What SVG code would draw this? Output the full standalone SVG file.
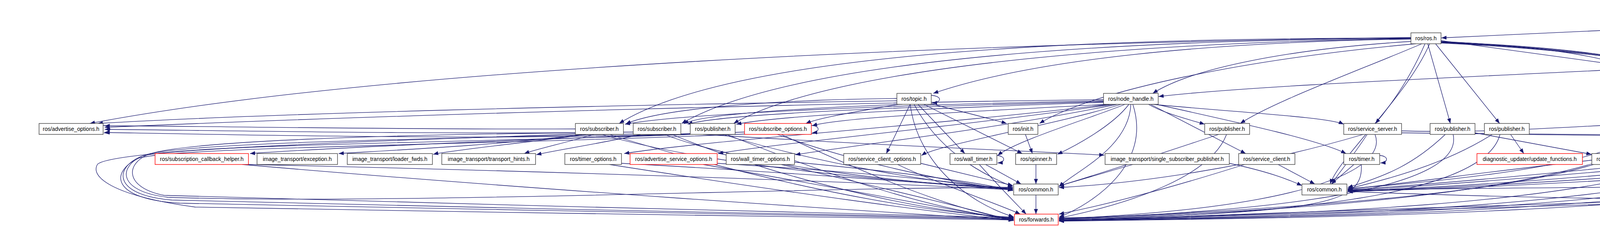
<svg xmlns="http://www.w3.org/2000/svg" width="6891" height="581" viewBox="0 0 6891 581">
<defs>
<marker id="a" markerUnits="userSpaceOnUse" markerWidth="14" markerHeight="10" refX="13" refY="5" orient="auto"><path d="M0,0 L13,5 L0,10 z" fill="#191970"/></marker>
<style>
.n rect{fill:#fff;stroke:#404040;stroke-width:1.4}
.r rect{fill:#fff;stroke:#ff0000;stroke-width:1.4}
.t rect{fill:#bfbfbf;stroke:#000;stroke-width:1.4}
text{font-family:"Liberation Sans",Arial,sans-serif;font-size:14px;text-anchor:middle;fill:#000}
#edges path{fill:none;stroke:#191970;stroke-width:1.3;marker-end:url(#a)}
</style>
</defs>
<rect width="6891" height="581" fill="#fff"/>
<g id="edges">
<path d="M5272,24 L3690,97"/>
<path d="M5328,35 L5224,84"/>
<path d="M5394,35 L5495,84"/>
<path d="M5446,33 L5819,84"/>
<path d="M5191,112 L5191,161"/>
<path d="M5532,112 L5532,161"/>
<path d="M5920,112 L5920,161"/>
<path d="M5985,113 L6197,161"/>
<path d="M5839,190 L5580,239"/>
<path d="M5908,190 L5879,239"/>
<path d="M5975,190 L6143,239"/>
<path d="M6030,190 L6384,239"/>
<path d="M6060,190 L6646,239"/>
<path d="M3612,100 C3100,108 2650,150 2389,239"/>
<path d="M3614,106 C3300,125 3050,175 2951,239"/>
<path d="M3612,97 C2900,98 1900,120 1585,316"/>
<path d="M3612,98 C2950,102 2050,140 1745,316"/>
<path d="M3612,99 C3000,106 2150,160 1878,316"/>
<path d="M3625,112 C3200,150 2800,230 2661,316"/>
<path d="M3640,112 C3480,180 3260,260 3175,316"/>
<path d="M3648,112 C3610,200 3560,270 3521,316"/>
<path d="M3655,112 L3713,316"/>
<path d="M3675,112 L3839,316"/>
<path d="M3689,104 L4141,166"/>
<path d="M3689,106 C4150,130 4340,180 4360,393"/>
<path d="M3689,107 C4250,130 4530,200 4537,393"/>
<path d="M3689,108 C4300,135 4620,220 4665,393"/>
<path d="M3689,109 C4350,140 4720,250 4795,393"/>
<path d="M3689,110 C4400,145 4850,270 4975,393"/>
<path d="M3660,112 C3600,250 3430,400 3405,471"/>
<path d="M3612,96 C2500,110 1000,170 230,316"/>
<path d="M4141,178 C3700,200 3200,220 2966,247"/>
<path d="M4205,189 L4160,393"/>
<path d="M4215,189 C4240,300 4300,350 4368,393"/>
<path d="M4225,189 C4270,330 4260,420 3450,483"/>
<path d="M4235,189 C4340,380 4200,500 2711,560"/>
<path d="M4244,182 C4700,190 5120,240 5240,300 C5300,330 5305,360 5305,420 C5305,480 5280,497 5180,497 C4700,500 3900,520 2711,566"/>
<path d="M3588,335 C3900,345 4300,300 4768,290 C5000,290 5170,330 5180,390 C5185,440 5100,465 4950,467 C4500,480 3700,480 3450,487"/>
<path d="M3588,340 C4000,345 4900,345 5100,372 C5160,385 5165,420 5140,460 C5100,500 5000,505 4800,508 C4000,520 3000,560 2711,564"/>
<path d="M3776,342 C4200,350 4900,350 5110,378 C5150,390 5150,430 5120,470 C5090,505 5000,510 4800,512 C4200,515 3700,500 3450,490"/>
<path d="M2825,255 C2200,262 1100,290 268,326"/>
<path d="M2825,258 C2300,268 1750,290 1600,318"/>
<path d="M2825,260 C2350,272 1850,290 1760,318"/>
<path d="M2825,262 C2400,276 2000,295 1885,318"/>
<path d="M2830,267 C2500,285 2150,300 2079,322"/>
<path d="M2840,267 C2400,320 1800,360 1598,393"/>
<path d="M2850,267 C2450,325 2000,365 1838,393"/>
<path d="M2860,267 C2550,330 2200,370 2036,396"/>
<path d="M2870,267 C2700,320 2400,370 2359,398"/>
<path d="M2880,267 C2800,300 2600,360 2554,398"/>
<path d="M2890,267 C2850,320 2760,370 2707,395"/>
<path d="M2895,267 C2890,380 2750,440 2711,478"/>
<path d="M2900,267 C2950,420 2800,520 2711,556"/>
<path d="M2940,267 C2980,290 3040,305 3084,318"/>
<path d="M2950,267 C3200,290 3400,300 3440,318"/>
<path d="M2945,267 L3189,393"/>
<path d="M2960,267 C3200,320 3380,360 3446,393"/>
<path d="M2330,267 L2269,393"/>
<path d="M2350,267 L2470,393"/>
<path d="M2365,267 L2617,393"/>
<path d="M2380,265 C2480,290 2540,305 2577,316"/>
<path d="M2300,267 C2200,285 2100,300 2063,316"/>
<path d="M2296,252 C2000,255 1700,275 1602,317"/>
<path d="M2310,267 C2100,275 1800,290 1750,317"/>
<path d="M2296,258 C1500,270 700,290 250,316"/>
<path d="M2340,267 C2400,380 2500,440 2593,478"/>
<path d="M2330,267 C2350,420 2480,520 2595,555"/>
<path d="M2384,244 C2412,246 2412,262 2386,264"/>
<path d="M2077,321 C2100,322 2100,338 2079,340"/>
<path d="M2552,398 C2575,399 2575,416 2554,417"/>
<path d="M3532,398 C3555,399 3555,416 3534,417"/>
<path d="M264,321 C287,322 287,338 266,340"/>
<path d="M1473,330 C1000,332 500,322 268,322"/>
<path d="M1490,344 C1300,370 1000,385 867,393"/>
<path d="M1500,344 C1350,365 1150,385 1109,395"/>
<path d="M1520,344 C1450,365 1380,380 1342,393"/>
<path d="M1540,344 C1800,420 2300,470 2593,480"/>
<path d="M1560,344 C1900,450 2300,540 2595,556"/>
<path d="M1621,338 C1100,345 500,333 268,331"/>
<path d="M1640,344 C1550,365 1420,385 1373,396"/>
<path d="M1700,344 C1900,420 2300,470 2593,482"/>
<path d="M1720,344 C2000,460 2350,540 2595,558"/>
<path d="M1767,342 C1300,360 600,345 268,339"/>
<path d="M1800,344 C2200,370 2600,385 2827,397"/>
<path d="M1850,344 C2100,420 2400,470 2593,484"/>
<path d="M1860,344 C2150,460 2400,540 2595,560"/>
<path d="M1906,338 C1400,355 900,375 640,393"/>
<path d="M1990,344 C2200,420 2450,470 2593,486"/>
<path d="M2000,344 C2250,460 2450,540 2595,562"/>
<path d="M1473,340 C1000,345 480,360 380,395 C320,420 320,480 420,500 C1000,520 2200,545 2595,557"/>
<path d="M1621,343 C1100,355 470,365 370,397 C300,425 300,490 430,505 C1000,525 2200,475 2593,481"/>
<path d="M1767,344 C1200,365 460,370 362,400 C290,430 290,500 440,512 C1000,530 2200,548 2595,559"/>
<path d="M1906,343 C1300,370 450,375 355,405 C280,440 285,510 460,520 C1100,535 2200,552 2595,561"/>
<path d="M1473,343 C1000,360 300,380 250,420 C230,450 280,500 500,530 C1200,545 2300,555 2595,563"/>
<path d="M2625,344 L2643,393"/>
<path d="M3120,344 C2950,400 2800,450 2711,476"/>
<path d="M3140,344 C3100,450 2900,520 2711,558"/>
<path d="M3490,344 C3200,430 2900,470 2711,480"/>
<path d="M3500,344 C3450,420 3420,450 3410,471"/>
<path d="M3520,344 C3550,420 3400,530 2711,560"/>
<path d="M3776,340 L4074,395"/>
<path d="M3700,344 C3620,420 3550,450 3450,480"/>
<path d="M3720,344 C3750,480 3300,540 2711,560"/>
<path d="M3867,344 L3901,393"/>
<path d="M3820,344 C3700,420 3550,460 3450,483"/>
<path d="M3840,344 C3800,500 3300,550 2711,562"/>
<path d="M636,421 C1500,440 2300,470 2593,486"/>
<path d="M620,421 C1300,480 2200,540 2595,563"/>
<path d="M1591,418 C2000,440 2400,470 2593,486"/>
<path d="M1560,421 C2000,490 2400,545 2595,564"/>
<path d="M1836,418 C2200,440 2450,465 2593,487"/>
<path d="M1800,421 C2200,490 2450,540 2595,564"/>
<path d="M2034,415 C2300,440 2500,465 2593,488"/>
<path d="M2000,421 C2300,490 2500,540 2595,565"/>
<path d="M2357,418 C2450,440 2530,460 2593,475"/>
<path d="M2298,421 C2400,470 2550,520 2612,548"/>
<path d="M2523,421 L2614,471"/>
<path d="M2507,421 C2560,480 2600,520 2627,548"/>
<path d="M2652,421 L2652,471"/>
<path d="M2652,499 L2652,548"/>
<path d="M2900,421 C2800,450 2750,465 2711,476"/>
<path d="M3147,418 C3250,440 3300,460 3333,475"/>
<path d="M3272,421 L3366,471"/>
<path d="M3186,421 C3000,480 2850,520 2711,548"/>
<path d="M3466,421 L3408,471"/>
<path d="M3485,421 C3490,520 3400,545 2711,560"/>
<path d="M4075,410 C3800,440 3600,470 3450,484"/>
<path d="M4080,418 C3800,500 3300,545 2711,558"/>
<path d="M4315,410 C4000,440 3700,470 3450,486"/>
<path d="M4320,418 C4000,520 3400,550 2711,562"/>
<path d="M4490,404 C4100,440 3700,475 3450,487"/>
<path d="M4500,418 C4100,530 3400,555 2711,563"/>
<path d="M4616,404 C4200,440 3800,478 3450,488"/>
<path d="M4630,418 C4200,535 3400,556 2711,564"/>
<path d="M4760,404 C4300,445 3800,480 3450,489"/>
<path d="M4770,418 C4300,540 3400,557 2711,565"/>
<path d="M4882,404 C4400,450 3800,482 3450,490"/>
<path d="M4900,421 C4400,545 3400,558 2711,566"/>
</g>
<g id="n_top" class="t"><rect x="5272" y="7" width="174" height="28"/><text x="5359" y="26">get_collision_free_ik.cpp</text></g>
<g id="n_ros" class="n"><rect x="3612" y="84" width="77" height="28"/><text x="3650.5" y="103">ros/ros.h</text></g>
<g id="n_gksi" class="n"><rect x="5041" y="84" width="298" height="28"/><text x="5190" y="103">kinematics_msgs/GetKinematicSolverInfo.h</text></g>
<g id="n_gcap" class="n"><rect x="5361" y="84" width="336" height="28"/><text x="5529" y="103">kinematics_msgs/GetConstraintAwarePositionIK.h</text></g>
<g id="n_spsd" class="n"><rect x="5756" y="84" width="316" height="28"/><text x="5914" y="103">arm_navigation_msgs/SetPlanningSceneDiff.h</text></g>
<g id="n_service" class="n"><rect x="4141" y="161" width="103" height="28"/><text x="4192.5" y="180">ros/service.h</text></g>
<g id="n_ksi" class="n"><rect x="5052" y="161" width="275" height="28"/><text x="5189.5" y="180">kinematics_msgs/KinematicSolverInfo.h</text></g>
<g id="n_pikr" class="n"><rect x="5401" y="161" width="259" height="28"/><text x="5530.5" y="180">kinematics_msgs/PositionIKRequest.h</text></g>
<g id="n_ps" class="r"><rect x="5778" y="161" width="273" height="28"/><text x="5914.5" y="180">arm_navigation_msgs/PlanningScene.h</text></g>
<g id="n_oco" class="r"><rect x="6074" y="161" width="352" height="28"/><text x="6250" y="180">arm_navigation_msgs/OrderedCollisionOperations.h</text></g>
<g id="n_topic" class="n"><rect x="2296" y="239" width="88" height="28"/><text x="2340" y="258">ros/topic.h</text></g>
<g id="n_nh" class="n"><rect x="2825" y="239" width="140" height="28"/><text x="2895" y="258">ros/node_handle.h</text></g>
<g id="n_acm" class="r"><rect x="5342" y="239" width="317" height="28"/><text x="5500.5" y="258">arm_navigation_msgs/AllowedCollisionMatrix.h</text></g>
<g id="n_acs" class="r"><rect x="5684" y="239" width="357" height="28"/><text x="5862.5" y="258">arm_navigation_msgs/AllowedContactSpecification.h</text></g>
<g id="n_lp" class="n"><rect x="6066" y="239" width="253" height="28"/><text x="6192.5" y="258">arm_navigation_msgs/LinkPadding.h</text></g>
<g id="n_co" class="r"><rect x="6345" y="239" width="270" height="28"/><text x="6480" y="258">arm_navigation_msgs/CollisionObject.h</text></g>
<g id="n_rs" class="r"><rect x="6640" y="239" width="250" height="28"/><text x="6765" y="258">arm_navigation_msgs/RobotState.h</text></g>
<g id="n_adv" class="n"><rect x="100" y="316" width="164" height="28"/><text x="182" y="335">ros/advertise_options.h</text></g>
<g id="n_sub1" class="n"><rect x="1473" y="316" width="123" height="28"/><text x="1534.5" y="335">ros/subscriber.h</text></g>
<g id="n_sub2" class="n"><rect x="1621" y="316" width="122" height="28"/><text x="1682" y="335">ros/subscriber.h</text></g>
<g id="n_pub1" class="n"><rect x="1767" y="316" width="115" height="28"/><text x="1824.5" y="335">ros/publisher.h</text></g>
<g id="n_subopt" class="r"><rect x="1906" y="316" width="171" height="28"/><text x="1991.5" y="335">ros/subscribe_options.h</text></g>
<g id="n_init" class="n"><rect x="2581" y="316" width="76" height="28"/><text x="2619" y="335">ros/init.h</text></g>
<g id="n_pub2" class="n"><rect x="3084" y="316" width="115" height="28"/><text x="3141.5" y="335">ros/publisher.h</text></g>
<g id="n_ssrv" class="n"><rect x="3440" y="316" width="148" height="28"/><text x="3514" y="335">ros/service_server.h</text></g>
<g id="n_pub3" class="n"><rect x="3661" y="316" width="115" height="28"/><text x="3718.5" y="335">ros/publisher.h</text></g>
<g id="n_pub4" class="n"><rect x="3800" y="316" width="115" height="28"/><text x="3857.5" y="335">ros/publisher.h</text></g>
<g id="n_sch" class="r"><rect x="397" y="393" width="239" height="28"/><text x="516.5" y="412">ros/subscription_callback_helper.h</text></g>
<g id="n_itexc" class="n"><rect x="658" y="393" width="206" height="28"/><text x="761" y="412">image_transport/exception.h</text></g>
<g id="n_itlf" class="n"><rect x="889" y="393" width="218" height="28"/><text x="998" y="412">image_transport/loader_fwds.h</text></g>
<g id="n_itth" class="n"><rect x="1131" y="393" width="240" height="28"/><text x="1251" y="412">image_transport/transport_hints.h</text></g>
<g id="n_tmo" class="n"><rect x="1446" y="393" width="145" height="28"/><text x="1518.5" y="412">ros/timer_options.h</text></g>
<g id="n_aso" class="r"><rect x="1613" y="393" width="223" height="28"/><text x="1724.5" y="412">ros/advertise_service_options.h</text></g>
<g id="n_wto" class="n"><rect x="1859" y="393" width="175" height="28"/><text x="1946.5" y="412">ros/wall_timer_options.h</text></g>
<g id="n_sco" class="n"><rect x="2160" y="393" width="197" height="28"/><text x="2258.5" y="412">ros/service_client_options.h</text></g>
<g id="n_wt" class="n"><rect x="2432" y="393" width="120" height="28"/><text x="2492" y="412">ros/wall_timer.h</text></g>
<g id="n_spin" class="n"><rect x="2600" y="393" width="105" height="28"/><text x="2652.5" y="412">ros/spinner.h</text></g>
<g id="n_itssp" class="n"><rect x="2829" y="393" width="318" height="28"/><text x="2988" y="412">image_transport/single_subscriber_publisher.h</text></g>
<g id="n_sc" class="n"><rect x="3171" y="393" width="144" height="28"/><text x="3243" y="412">ros/service_client.h</text></g>
<g id="n_tm" class="n"><rect x="3440" y="393" width="92" height="28"/><text x="3486" y="412">ros/timer.h</text></g>
<g id="n_duf" class="r"><rect x="3781" y="393" width="270" height="28"/><text x="3916" y="412">diagnostic_updater/update_functions.h</text></g>
<g id="n_msg" class="n"><rect x="4075" y="393" width="116" height="28"/><text x="4133" y="412">ros/message.h</text></g>
<g id="n_names" class="n"><rect x="4315" y="393" width="100" height="28"/><text x="4365" y="412">ros/names.h</text></g>
<g id="n_master" class="n"><rect x="4490" y="393" width="104" height="28"/><text x="4542" y="412">ros/master.h</text></g>
<g id="n_thisnode" class="n"><rect x="4616" y="393" width="120" height="28"/><text x="4676" y="412">ros/this_node.h</text></g>
<g id="n_param" class="n"><rect x="4760" y="393" width="100" height="28"/><text x="4810" y="412">ros/param.h</text></g>
<g id="n_rssp" class="n"><rect x="4882" y="393" width="233" height="28"/><text x="4998.5" y="412">ros/single_subscriber_publisher.h</text></g>
<g id="n_com1" class="n"><rect x="2595" y="471" width="114" height="28"/><text x="2652" y="490">ros/common.h</text></g>
<g id="n_com2" class="n"><rect x="3333" y="471" width="115" height="28"/><text x="3390.5" y="490">ros/common.h</text></g>
<g id="n_fwd" class="r"><rect x="2597" y="548" width="112" height="28"/><text x="2653" y="567">ros/forwards.h</text></g>
</svg>
